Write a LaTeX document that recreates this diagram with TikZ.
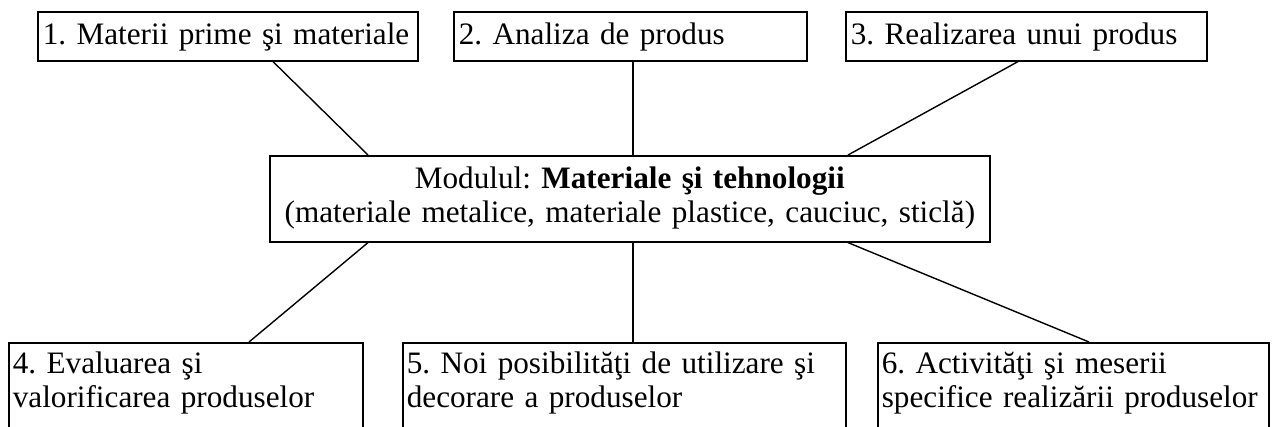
\documentclass[tikz,border=0pt]{standalone}
\usepackage{fontspec}
\setmainfont{Liberation Serif}
\begin{document}
\begin{tikzpicture}[x=1pt,y=-1pt,
  box/.style={draw, line width=1.6pt, anchor=north west, inner xsep=5pt, inner ysep=0pt,
    align=left, font=\fontsize{31.2}{34}\selectfont\frenchspacing},
  topbox/.style={box, text height=33pt, text depth=16pt},
  bottombox/.style={box, inner xsep=4pt, text height=31pt, text depth=89pt},
  link/.style={line width=1.4pt}]
\useasboundingbox (0,0) rectangle (1276,426);
\clip (0,0) rectangle (1276,426);
\node[topbox, text width=370pt] (b1) at (37,11) {\mbox{1. Materii prime şi materiale}};
\node[topbox, text width=343pt] (b2) at (453,11) {\mbox{2. Analiza de produs}};
\node[topbox, text width=351pt] (b3) at (845,11) {\mbox{3. Realizarea unui produs}};
\node[box, align=center, text width=710pt, text height=33pt, text depth=53pt] (c) at (269,155)
  {\mbox{Modulul: \textbf{Materiale şi tehnologii}}\\\mbox{(materiale metalice, materiale plastice, cauciuc, sticlă)}};
\node[bottombox, text width=346pt] (b4) at (8,342) {\mbox{4. Evaluarea şi}\\\mbox{valorificarea produselor}};
\node[bottombox, text width=435pt] (b5) at (402,342) {\mbox{5. Noi posibilităţi de utilizare şi}\\\mbox{decorare a produselor}};
\node[bottombox, text width=383pt] (b6) at (877,342) {\mbox{6. Activităţi şi meserii}\\\mbox{specifice realizării produselor}};
\draw[link] ([xshift=236pt]b1.south west) -- ([xshift=99pt]c.north west);
\draw[link] ([xshift=180pt]b2.south west) -- ([xshift=364pt]c.north west);
\draw[link] ([xshift=173pt]b3.south west) -- ([xshift=579pt]c.north west);
\draw[link] ([xshift=99pt]c.south west) -- ([xshift=241pt]b4.north west);
\draw[link] ([xshift=364pt]c.south west) -- ([xshift=231pt]b5.north west);
\draw[link] ([xshift=579pt]c.south west) -- ([xshift=212pt]b6.north west);
\end{tikzpicture}
\end{document}
